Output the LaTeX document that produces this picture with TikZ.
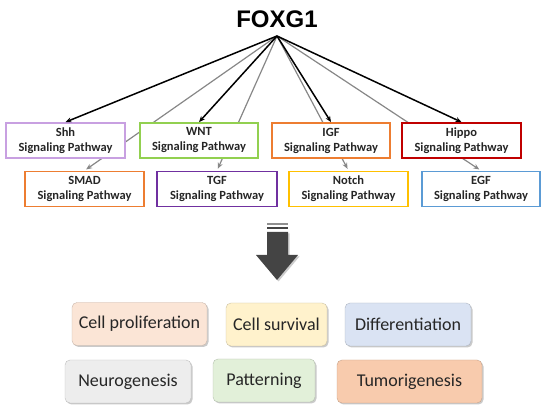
\documentclass[tikz,border=0pt]{standalone}
\usepackage{fontspec}
\setmainfont{Carlito}
\newfontfamily\arialfont{Liberation Sans}
\usetikzlibrary{arrows.meta,shadows}
\definecolor{shhc}{RGB}{200,160,225}
\definecolor{wntc}{RGB}{146,208,80}
\definecolor{orc}{RGB}{237,125,49}
\definecolor{hipc}{RGB}{192,0,0}
\definecolor{tgfc}{RGB}{112,48,160}
\definecolor{notc}{RGB}{255,192,0}
\definecolor{egfc}{RGB}{91,155,213}
\definecolor{arrgray}{RGB}{135,135,135}
\definecolor{bigarr}{RGB}{68,68,68}
\definecolor{fprol}{RGB}{251,229,214}
\definecolor{fsurv}{RGB}{255,242,204}
\definecolor{fdiff}{RGB}{218,227,243}
\definecolor{fneur}{RGB}{237,237,237}
\definecolor{fpatt}{RGB}{226,240,217}
\definecolor{ftumo}{RGB}{248,203,173}
\definecolor{txt}{RGB}{38,38,38}
\tikzset{
  pathbox/.style={draw=#1, line width=1.8pt, fill=white, minimum height=35pt, inner sep=0pt,
    align=center, font=\fontsize{12.5}{15}\selectfont\bfseries, text=txt},
  outbox/.style={fill=#1, draw=#1!80!black, line width=0.4pt, rounded corners=5pt, minimum height=43pt,
    inner sep=0pt, font=\fontsize{18}{20}\selectfont, text=txt,
    drop shadow={shadow xshift=1.5pt, shadow yshift=-1.5pt, fill=black!35, opacity=0.6}},
  blackarr/.style={line width=1.5pt, black, -{Stealth[length=6pt,width=5pt]}},
  grayarrow/.style={line width=1.2pt, arrgray, -{Stealth[length=6pt,width=5pt]}, shorten >=2pt}
}
\begin{document}
\begin{tikzpicture}[x=1pt,y=-1pt]
\useasboundingbox (0,0) rectangle (550,411);
\node[font=\arialfont\bfseries\fontsize{24}{26}\selectfont, text=black, inner sep=0pt] (foxg1) at (277,19) {FOXG1};
\coordinate (apex) at (277,36);
% lower row
\node[pathbox=orc, minimum width=119pt] (smad) at (84.5,189) {SMAD\\Signaling Pathway};
\node[pathbox=tgfc, minimum width=120pt] (tgf) at (217,189) {TGF\\Signaling Pathway};
\node[pathbox=notc, minimum width=119pt] (notch) at (348.5,189) {Notch\\Signaling Pathway};
\node[pathbox=egfc, minimum width=118pt] (egf) at (481,189) {EGF\\Signaling Pathway};
% gray arrows (behind top row)
\draw[grayarrow] (apex) -- (smad.north);
\draw[grayarrow] (apex) -- (tgf.north);
\draw[grayarrow] (apex) -- (notch.north);
\draw[grayarrow] (apex) -- (egf.north);
% top row
\node[pathbox=shhc, minimum width=119pt] (shh) at (65.5,140.5) {Shh\\Signaling Pathway};
\node[pathbox=wntc, minimum width=118pt] (wnt) at (199,140.5) {WNT\\Signaling Pathway};
\node[pathbox=orc, minimum width=118pt] (igf) at (331,140.5) {IGF\\Signaling Pathway};
\node[pathbox=hipc, minimum width=119pt] (hippo) at (461.5,140.5) {Hippo\\Signaling Pathway};
\draw[blackarr] (apex) -- (shh.north);
\draw[blackarr] (apex) -- (wnt.north);
\draw[blackarr] (apex) -- (igf.north);
\draw[blackarr] (apex) -- (hippo.north);
% big arrow
\fill[black!20] (268.5,233.5) -- (289.5,233.5) -- (289.5,256.5) -- (299.5,256.5) -- (278.5,281.5) -- (257.5,256.5) -- (268.5,256.5) -- cycle;
\fill[bigarr!60] (267,223) rectangle (288,225);
\fill[bigarr] (267,227.5) rectangle (288,229.5);
\fill[bigarr] (267,232) -- (288,232) -- (288,255) -- (298,255) -- (277,280) -- (256,255) -- (267,255) -- cycle;
% outcome boxes
\node[outbox=fprol, minimum width=135pt] (prol) at (139.5,324) {Cell proliferation};
\node[outbox=fsurv, minimum width=101pt] (surv) at (276.5,324.5) {Cell survival};
\node[outbox=fdiff, minimum width=126pt] (diff) at (408,324.5) {Differentiation};
\node[outbox=fneur, minimum width=126pt] (neur) at (128,381.5) {Neurogenesis};
\node[outbox=fpatt, minimum width=102pt] (patt) at (264,380.5) {Patterning};
\node[outbox=ftumo, minimum width=145pt] (tumo) at (409.5,381.5) {Tumorigenesis};
\end{tikzpicture}
\end{document}
